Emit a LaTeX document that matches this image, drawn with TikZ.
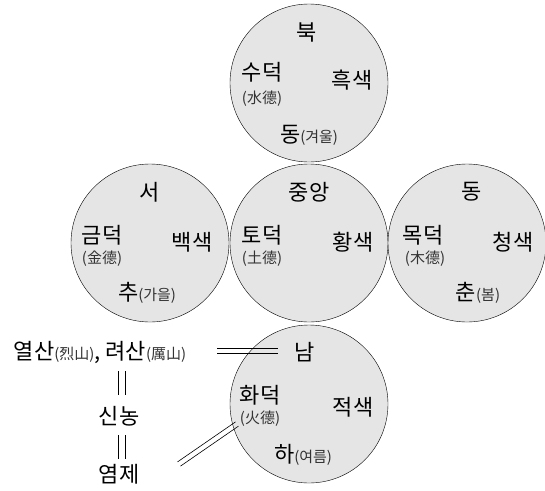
\documentclass[tikz,border=0pt]{standalone}
\usepackage{fontspec}
\setmainfont{Noto Sans CJK KR}

\newcommand{\smalltxt}[1]{{\fontsize{15}{17}\selectfont\color{black!80}#1}}

\begin{document}
\begin{tikzpicture}[x=1pt,y=-1pt,
  ohaeng/.style={circle,draw,thin,fill=gray!20,minimum size=158pt,inner sep=0pt},
  big/.style={font=\fontsize{22}{24}\selectfont,inner sep=1pt},
  small/.style={font=\fontsize{15}{17}\selectfont,text=black!80,inner sep=1pt},
  pairh/.style={draw=none,
    preaction={draw,line width=0.6pt,transform canvas={yshift=2.5pt}},
    postaction={draw,line width=0.6pt,transform canvas={yshift=-2.5pt}}},
  pairv/.style={draw=none,
    preaction={draw,line width=0.6pt,transform canvas={xshift=3.5pt}},
    postaction={draw,line width=0.6pt,transform canvas={xshift=-3.5pt}}},
  paird/.style={draw=none,
    preaction={draw,line width=0.6pt,transform canvas={shift={(1.5pt,-2.1pt)}}},
    postaction={draw,line width=0.6pt,transform canvas={shift={(-1.5pt,2.1pt)}}}}]

  \useasboundingbox (0,0) rectangle (545,490);

  % five circles
  \node[ohaeng] (N) at (309,83) {};
  \node[ohaeng] (C) at (309,243) {};
  \node[ohaeng] (W) at (150,243) {};
  \node[ohaeng] (E) at (467,243) {};
  \node[ohaeng] (S) at (309,404) {};

  % north
  \node[big] (Ndir) at ([shift={(-2,-51)}]N) {북};
  \node[big] (Ndeok) at ([shift={(-47,-11)}]N) {수덕};
  \node[small] (Nhanja) at ([shift={(-47,16)}]N) {(水德)};
  \node[big] (Ncol) at ([shift={(43,-3)}]N) {흑색};
  \node[big] (Nseason) at ([shift={(0,52)}]N) {동\smalltxt{(겨울)}};

  % centre
  \node[big] (Cdir) at ([shift={(0,-51)}]C) {중앙};
  \node[big] (Cdeok) at ([shift={(-47,-8)}]C) {토덕};
  \node[small] (Chanja) at ([shift={(-47,16)}]C) {(土德)};
  \node[big] (Ccol) at ([shift={(44,-1)}]C) {황색};

  % west
  \node[big] (Wdir) at ([shift={(0,-51)}]W) {서};
  \node[big] (Wdeok) at ([shift={(-48,-8)}]W) {금덕};
  \node[small] (Whanja) at ([shift={(-48,16)}]W) {(金德)};
  \node[big] (Wcol) at ([shift={(42,-1)}]W) {백색};
  \node[big] (Wseason) at ([shift={(-3,50)}]W) {추\smalltxt{(가을)}};

  % east
  \node[big] (Edir) at ([shift={(5,-51)}]E) {동};
  \node[big] (Edeok) at ([shift={(-44,-8)}]E) {목덕};
  \node[small] (Ehanja) at ([shift={(-42,16)}]E) {(木德)};
  \node[big] (Ecol) at ([shift={(46,-1)}]E) {청색};
  \node[big] (Eseason) at ([shift={(11,50)}]E) {춘\smalltxt{(봄)}};

  % south
  \node[big] (Sdir) at ([shift={(-4,-52)}]S) {남};
  \node[big] (Sdeok) at ([shift={(-49,-9)}]S) {화덕};
  \node[small] (Shanja) at ([shift={(-49,15)}]S) {(火德)};
  \node[big] (Scol) at ([shift={(44,3)}]S) {적색};
  \node[big] (Sseason) at ([shift={(-6,51)}]S) {하\smalltxt{(여름)}};

  % names on the left
  \node[big] (yeolsan) at (100,352) {열산\smalltxt{(烈山)}, 려산\smalltxt{(厲山)}};
  \node[big] (sinnong) at (119,416) {신농};
  \node[big] (yeomje) at (119,474) {염제};
  \coordinate (lineA) at (217,351);
  \coordinate (lineB) at (278,351);
  \coordinate (diagA) at (179,464);
  \coordinate (diagB) at (237,424);

  % double lines
  \draw[pairh] (lineA) -- (lineB);
  \draw[pairv] ([xshift=3pt,yshift=10pt]sinnong.north) -- ([xshift=3pt,yshift=-7pt]sinnong.north |- yeolsan.south);
  \draw[pairv] ([xshift=3pt,yshift=-8pt]sinnong.south) -- ([xshift=3pt,yshift=4pt]sinnong.south |- yeomje.north);
  \draw[paird] (diagA) -- (diagB);

\end{tikzpicture}
\end{document}
